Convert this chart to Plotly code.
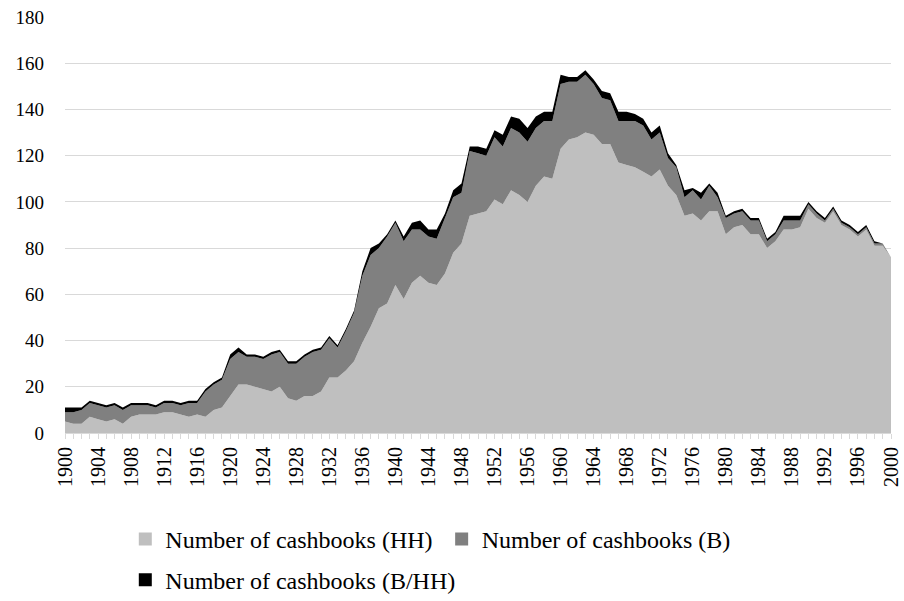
import plotly.graph_objects as go

years = list(range(1900, 2001))

hh = [5, 4, 4, 7, 6, 5, 6, 4, 7, 8,
      8, 8, 9, 9, 8, 7, 8, 7, 10, 11,
      16, 21, 21, 20, 19, 18, 20, 15, 14, 16,
      16, 18, 24, 24, 27, 31, 39, 46, 54, 56,
      64, 58, 65, 68, 65, 64, 69, 78, 82, 94,
      95, 96, 101, 99, 105, 103, 100, 107, 111, 110,
      123, 127, 128, 130, 129, 125, 125, 117, 116, 115,
      113, 111, 114, 107, 103, 94, 95, 92, 96, 96,
      86, 89, 90, 86, 86, 80, 83, 88, 88, 89,
      97, 93, 91, 96, 90, 88, 85, 88, 81, 81,
      76]

b = [4, 5, 6, 6, 6, 6, 6, 6, 5, 4,
     4, 3, 4, 4, 4, 6, 5, 11, 11, 12,
     16, 14, 12, 13, 13, 16, 15, 15, 16, 17,
     19, 18, 17, 13, 17, 21, 29, 31, 26, 29,
     27, 25, 23, 20, 20, 20, 24, 24, 22, 28,
     26, 24, 27, 25, 27, 27, 26, 25, 24, 25,
     28, 25, 24, 25, 22, 20, 19, 18, 19, 20,
     20, 16, 16, 12, 12, 8, 10, 9, 11, 6,
     7, 6, 6, 6, 6, 3, 3, 4, 4, 3,
     2, 2, 1, 1, 1, 1, 1, 1, 1, 1,
     0]

bhh = [2, 2, 1, 1, 1, 1, 1, 1, 1, 1,
       1, 1, 1, 1, 1, 1, 1, 1, 1, 1,
       2, 2, 1, 1, 1, 1, 1, 1, 1, 1,
       1, 1, 1, 1, 1, 1, 2, 3, 2, 1,
       1, 2, 3, 4, 3, 4, 2, 3, 4, 2,
       3, 3, 3, 5, 5, 6, 6, 5, 4, 4,
       4, 2, 2, 2, 2, 3, 3, 4, 4, 3,
       3, 3, 3, 2, 1, 3, 1, 3, 1, 2,
       1, 1, 1, 1, 1, 1, 1, 2, 2, 2,
       1, 1, 1, 1, 1, 1, 1, 1, 1, 0,
       0]

series_names = ["Number of cashbooks (HH)", "Number of cashbooks (B)", "Number of cashbooks (B/HH)"]
series_values = [hh, b, bhh]
series_colors = ["#bfbfbf", "#808080", "#000000"]
legend_ids = ["legend", "legend2", "legend3"]

x_tick_vals = list(range(1900, 2001, 4))
x_tick_text = [str(v) for v in x_tick_vals]
y_tick_vals = list(range(0, 181, 20))

FONT = "Liberation Serif, Times New Roman, Liberation Sans, sans-serif"

fig = go.Figure()
for name, vals, col in zip(series_names, series_values, series_colors):
    fig.add_trace(go.Scatter(
        x=years, y=vals, name=name, mode="lines",
        stackgroup="one", line=dict(width=0, color=col),
        fillcolor=col, showlegend=False, hoverinfo="x+y+name"))

for name, col, lid in zip(series_names, series_colors, legend_ids):
    fig.add_trace(go.Scatter(
        x=[None], y=[None], name=name, mode="markers",
        marker=dict(symbol="square", size=13, color=col),
        showlegend=True, legend=lid))

legend_common = dict(orientation="h", xanchor="left", yanchor="middle",
                     font=dict(family=FONT, size=24, color="#000000"),
                     bgcolor="rgba(0,0,0,0)", itemwidth=30)

fig.update_layout(
    width=904, height=601,
    margin=dict(l=65, r=13, t=17, b=168, autoexpand=False),
    paper_bgcolor="white", plot_bgcolor="white",
    font=dict(family=FONT, color="#000000"),
    legend=dict(x=0.073, y=-0.256, **legend_common),
    legend2=dict(x=0.456, y=-0.256, **legend_common),
    legend3=dict(x=0.073, y=-0.354, **legend_common),
    xaxis=dict(
        range=[1900, 2000], tickmode="array", tickvals=x_tick_vals, ticktext=x_tick_text,
        tickangle=-90, tickfont=dict(family=FONT, size=20, color="#000000"),
        showgrid=False, showline=True, linecolor="#d9d9d9", linewidth=1,
        ticks="outside", ticklen=5, tickcolor="#d9d9d9",
        minor=dict(dtick=1, tick0=1900, ticks="outside", ticklen=5, tickcolor="#d9d9d9", showgrid=False),
        zeroline=False),
    yaxis=dict(
        range=[0, 180], tickmode="array", tickvals=y_tick_vals,
        tickfont=dict(family=FONT, size=19, color="#000000"),
        showgrid=True, gridcolor="#d9d9d9", gridwidth=1.3, ticklabeloverflow="allow",
        zeroline=False, showline=False, ticks="", ticklabelstandoff=20),
)

fig.write_html("out.html", config={"displayModeBar": False},
               post_script="document.body.style.margin='0';document.body.style.overflow='hidden';")
